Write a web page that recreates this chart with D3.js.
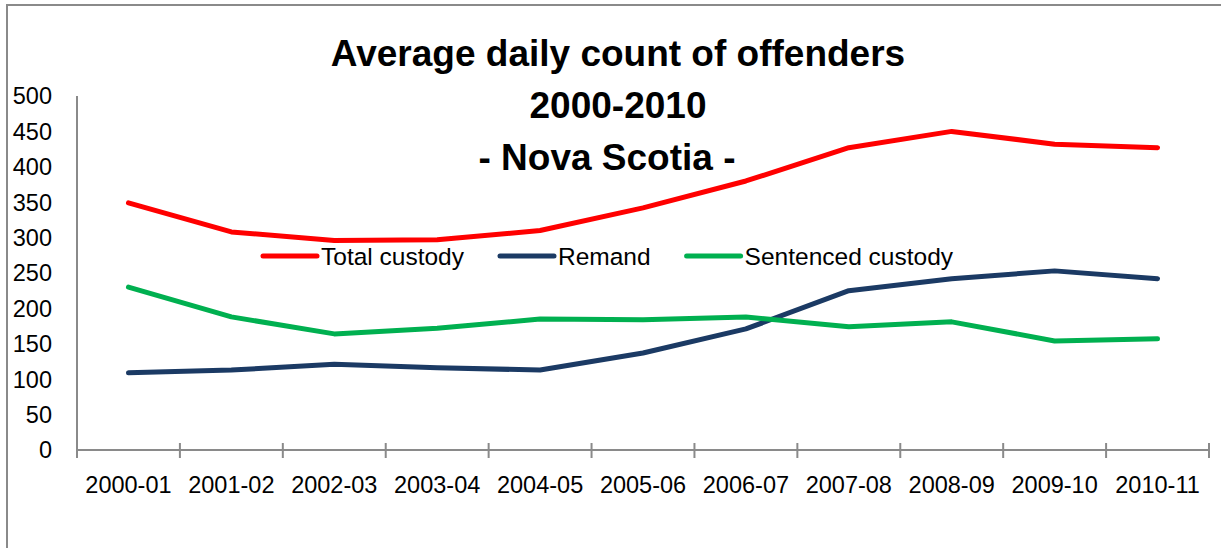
<!DOCTYPE html>
<html>
<head>
<meta charset="utf-8">
<script src="https://cdn.jsdelivr.net/npm/d3@7"></script>
<style>
  body { margin: 0; background: #ffffff; }
  text { font-family: "Liberation Sans", Arial, sans-serif; fill: #000; }
</style>
</head>
<body>
<div id="container"></div>
<script>
/* DATA */
const years = ["2000-01", "2001-02", "2002-03", "2003-04", "2004-05", "2005-06",
               "2006-07", "2007-08", "2008-09", "2009-10", "2010-11"];
const totalCustody = [349, 308, 296, 297, 310, 342, 380, 427, 450, 432, 427];
const remand = [109, 113, 121, 116, 113, 137, 171, 225, 242, 253, 242];
const sentencedCustody = [230, 188, 164, 172, 185, 184, 188, 174, 181, 154, 157];
const yTicks = [0, 50, 100, 150, 200, 250, 300, 350, 400, 450, 500];
const titleLines = ["Average daily count of offenders", "2000-2010", "- Nova Scotia -"];

const series = [
  { name: "Total custody", values: totalCustody, color: "#ff0000" },
  { name: "Remand", values: remand, color: "#1b3a64" },
  { name: "Sentenced custody", values: sentencedCustody, color: "#00b050" }
];

/* CONSTANTS */
const width = 1221;
const height = 548;
const axisColor = "#8a8a8a";

const svg = d3.select("#container")
  .append("svg")
  .attr("width", width)
  .attr("height", height);

// outer frame (right and bottom edges fall outside the picture)
svg.append("rect")
  .attr("x", 7)
  .attr("y", 5)
  .attr("width", 1400)
  .attr("height", 700)
  .attr("fill", "none")
  .attr("stroke", axisColor)
  .attr("stroke-width", 2);

/* SCALES */
const xScale = d3.scaleBand()
  .domain(years)
  .range([77, 1209])
  .padding(0);

const yScale = d3.scaleLinear()
  .domain([0, 500])
  .range([450, 96]);

const cx = d => xScale(d) + xScale.bandwidth() / 2;

/* TITLE */
svg.selectAll(".title")
  .data(titleLines)
  .join("text")
  .attr("class", "title")
  .attr("x", (d, i) => i === 2 ? 607 : 618)
  .attr("y", (d, i) => 66 + i * 52)
  .attr("text-anchor", "middle")
  .style("font-size", "37px")
  .style("font-weight", "bold")
  .text(d => d);

/* Y AXIS */
svg.append("line")
  .attr("x1", 77).attr("x2", 77)
  .attr("y1", yScale(500)).attr("y2", yScale(0))
  .attr("stroke", axisColor)
  .attr("stroke-width", 2);

svg.selectAll(".ylab")
  .data(yTicks)
  .join("text")
  .attr("class", "ylab")
  .attr("x", 52)
  .attr("y", d => yScale(d))
  .attr("dy", "0.36em")
  .attr("text-anchor", "end")
  .style("font-size", "23.5px")
  .text(d => d);

/* X AXIS */
svg.append("line")
  .attr("x1", 77).attr("x2", 1209)
  .attr("y1", yScale(0)).attr("y2", yScale(0))
  .attr("stroke", axisColor)
  .attr("stroke-width", 2);

const boundaries = years.map(d => xScale(d)).concat([xScale.range()[1]]);
svg.selectAll(".xtick")
  .data(boundaries)
  .join("line")
  .attr("class", "xtick")
  .attr("x1", d => d).attr("x2", d => d)
  .attr("y1", yScale(0) - 7).attr("y2", yScale(0) + 8)
  .attr("stroke", axisColor)
  .attr("stroke-width", 2);

svg.selectAll(".xlab")
  .data(years)
  .join("text")
  .attr("class", "xlab")
  .attr("x", d => cx(d))
  .attr("y", 493)
  .attr("text-anchor", "middle")
  .style("font-size", "23.5px")
  .text(d => d);

/* LINES */
const line = d3.line()
  .x((d, i) => cx(years[i]))
  .y(d => yScale(d));

svg.selectAll(".series")
  .data(series)
  .join("path")
  .attr("class", "series")
  .attr("d", d => line(d.values))
  .attr("fill", "none")
  .attr("stroke", d => d.color)
  .attr("stroke-width", 5)
  .attr("stroke-linejoin", "round")
  .attr("stroke-linecap", "round");

/* LEGEND */
const legend = svg.append("g").attr("class", "legend");
let lx = 263;
const ly = 256;
series.forEach(s => {
  legend.append("line")
    .attr("x1", lx).attr("x2", lx + 54)
    .attr("y1", ly).attr("y2", ly)
    .attr("stroke", s.color)
    .attr("stroke-width", 5)
    .attr("stroke-linecap", "round");
  const t = legend.append("text")
    .attr("x", lx + 58)
    .attr("y", ly)
    .attr("dy", "0.36em")
    .style("font-size", "24.5px")
    .text(s.name);
  lx += 58 + t.node().getComputedTextLength() + 36;
});
</script>
</body>
</html>
